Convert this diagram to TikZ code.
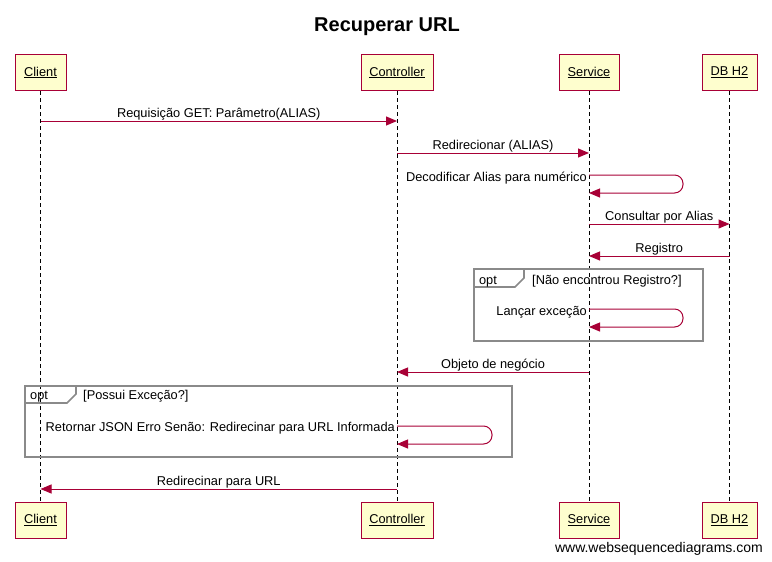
\documentclass[tikz,border=0pt]{standalone}
\usepackage{fontspec}
\setmainfont{Liberation Sans}
\usetikzlibrary{arrows.meta}
\definecolor{msgc}{HTML}{A80036}
\definecolor{pfill}{HTML}{FEFECE}
\definecolor{fgray}{HTML}{8A8A8A}
\begin{document}
\begin{tikzpicture}[x=1pt,y=-1pt,
 part/.style={draw=msgc,fill=pfill,line width=1pt,minimum height=36pt,inner sep=0pt,font=\fontsize{12.8}{14}\selectfont},
 life/.style={dash pattern=on 4pt off 3pt,line width=0.8pt},
 msgline/.style={draw=msgc,line width=1pt,-{Triangle[length=11pt,width=9pt]}},
 selfline/.style={msgline,rounded corners=8.5pt},
 lbl/.style={font=\fontsize{12.8}{15}\selectfont,inner sep=0pt,anchor=base},
 slbl/.style={font=\fontsize{12.8}{15}\selectfont,inner sep=0pt,anchor=base east},
 optframe/.style={draw=fgray,line width=1.6pt},
]
\useasboundingbox[fill=white] (0,0) rectangle (772,562);
% title
\node[font=\fontsize{20}{24}\selectfont\bfseries,inner sep=0pt,anchor=base] (title) at (387,31) {Recuperar URL};
% participants
\node[part,minimum width=51pt] (clT) at (40.5,72.5) {\underline{Client}};
\node[part,minimum width=72pt] (coT) at (397,72.5) {\underline{Controller}};
\node[part,minimum width=60pt] (svT) at (589,72.5) {\underline{Service}};
\node[part,minimum width=55pt] (dbT) at (729.5,72.5) {\underline{DB H2}};
\node[part,minimum width=51pt] (clB) at (40.5,520) {\underline{Client}};
\node[part,minimum width=72pt] (coB) at (397,520) {\underline{Controller}};
\node[part,minimum width=60pt] (svB) at (589,520) {\underline{Service}};
\node[part,minimum width=55pt] (dbB) at (729.5,520) {\underline{DB H2}};
% lifelines
\draw[life] (clT.south) -- (clB.north);
\draw[life] (coT.south) -- (coB.north);
\draw[life] (svT.south) -- (svB.north);
\draw[life] (dbT.south) -- (dbB.north);
% opt frames
\draw[optframe,fill=none] (474,269) rectangle (703,341);
\draw[optframe] (474,287) -- (515,287) -- (524,278) -- (524,269);
\node[lbl] (opt1) at (488,284) {opt};
\node[lbl,anchor=base west] (cond1) at (532,284) {[Não encontrou Registro?]};
\draw[optframe] (25,386) rectangle (512,457);
\draw[optframe] (25,403) -- (67,403) -- (76,394) -- (76,386);
\node[lbl,anchor=base west] (opt2) at (30,399) {opt};
\node[lbl,anchor=base west] (cond2) at (83,399) {[Possui Exceção?]};
% coordinates
\coordinate (m1a) at (40.5,121); \coordinate (m1b) at (397,121);
\coordinate (m2a) at (397,153); \coordinate (m2b) at (589,153);
\coordinate (m3a) at (589,175); \coordinate (m3r) at (683,175); \coordinate (m3s) at (683,193); \coordinate (m3b) at (589,193);
\coordinate (m4a) at (589,224); \coordinate (m4b) at (729.5,224);
\coordinate (m5a) at (729.5,256); \coordinate (m5b) at (589,256);
\coordinate (m6a) at (589,309); \coordinate (m6r) at (683,309); \coordinate (m6s) at (683,327); \coordinate (m6b) at (589,327);
\coordinate (m7a) at (589,372); \coordinate (m7b) at (397,372);
\coordinate (m8a) at (397,426); \coordinate (m8r) at (492,426); \coordinate (m8s) at (492,444); \coordinate (m8b) at (397,444);
\coordinate (m9a) at (397,489); \coordinate (m9b) at (40.5,489);
% messages
\draw[msgline] (m1a) -- node[lbl,yshift=4pt] {Requisição GET: Parâmetro(ALIAS)} (m1b);
\draw[msgline] (m2a) -- node[lbl,yshift=4pt] {Redirecionar (ALIAS)} (m2b);
\draw[selfline] (m3a) -- (m3r) -- (m3s) -- (m3b);
\node[slbl] (l3) at (587,181) {Decodificar Alias para numérico};
\draw[msgline] (m4a) -- node[lbl,yshift=4pt] {Consultar por Alias} (m4b);
\draw[msgline] (m5a) -- node[lbl,yshift=4pt] {Registro} (m5b);
\draw[selfline] (m6a) -- (m6r) -- (m6s) -- (m6b);
\node[slbl] (l6) at (587,315) {Lançar exceção};
\draw[msgline] (m7a) -- node[lbl,yshift=4pt] {Objeto de negócio} (m7b);
\draw[selfline] (m8a) -- (m8r) -- (m8s) -- (m8b);
\node[slbl] (l8) at (395,431) {Retornar JSON Erro Senão: Redirecinar para URL Informada};
\draw[msgline] (m9a) -- node[lbl,yshift=4pt] {Redirecinar para URL} (m9b);
% credit
\node[font=\fontsize{14}{16}\selectfont,inner sep=0pt,anchor=base east] (credit) at (763,552) {www.websequencediagrams.com};
\end{tikzpicture}
\end{document}
